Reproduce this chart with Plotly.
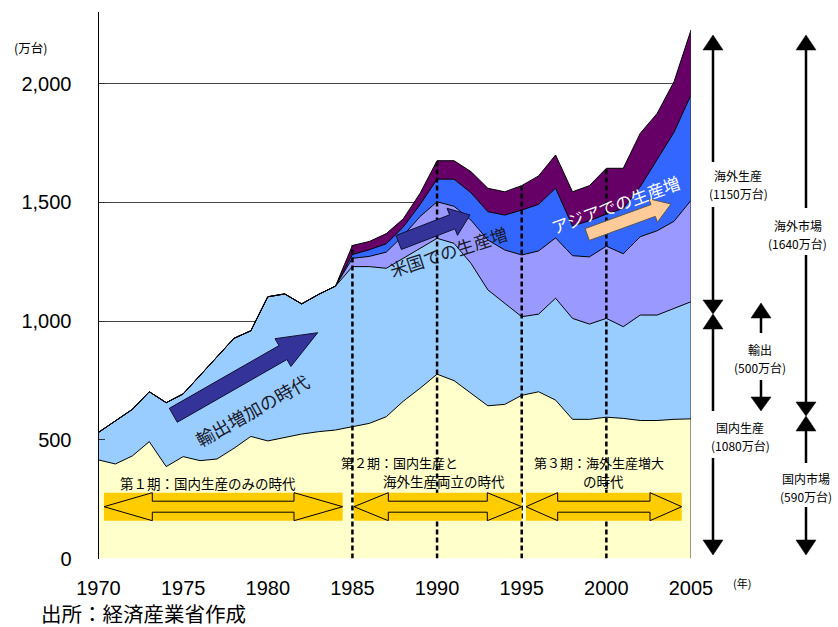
import math
import plotly.graph_objects as go

W, H = 838, 627

# ---- data (万台) ----
years = list(range(1970, 2006))

domestic_sales = [415, 398, 432, 492, 387, 429, 412, 419, 464, 514, 495, 510, 524, 534, 541,
                  555, 569, 597, 662, 717, 776, 749, 696, 643, 649, 687, 702, 667, 586, 586,
                  595, 590, 581, 581, 586, 588]
exports = [116, 182, 196, 210, 269, 264, 358, 431, 463, 445, 607, 604, 548, 578, 606,
           674, 660, 625, 602, 589, 572, 578, 547, 488, 426, 331, 327, 429, 425, 401,
           416, 386, 444, 444, 467, 493]
us_production = [0, 0, 0, 0, 0, 0, 0, 0, 0, 0, 0, 0, 0, 0, 0,
                 35, 43, 68, 96, 134, 154, 156, 182, 210, 224, 260, 266, 254, 264, 283,
                 304, 307, 330, 355, 367, 427]
asia_production = [0, 0, 0, 0, 0, 0, 0, 0, 0, 0, 0, 0, 0, 0, 0,
                   16, 28, 35, 35, 50, 95, 114, 115, 119, 147, 189, 196, 209, 125, 152,
                   135, 191, 210, 300, 375, 444]
other_production = [0, 0, 0, 0, 0, 0, 0, 0, 0, 0, 0, 0, 0, 0, 0,
                    38, 35, 43, 35, 48, 78, 78, 89, 99, 98, 103, 120, 140, 144, 148,
                    193, 169, 225, 194, 213, 273]

series_names = ["国内販売", "輸出", "米国生産", "アジア生産", "その他海外生産"]
series_values = [domestic_sales, exports, us_production, asia_production, other_production]
series_colors = ["#FFFFCC", "#99CCFF", "#9999FF", "#3366FF", "#660066"]

x_ticks = [1970, 1975, 1980, 1985, 1990, 1995, 2000, 2005]
y_ticks = [0, 500, 1000, 1500, 2000]
y_tick_labels = ["0", "500", "1,000", "1,500", "2,000"]
period_boundaries = [1985, 1990, 1995, 2000]

CJK = "Noto Sans CJK JP"
NUM = "Liberation Sans, Arial, sans-serif"

# plot area in page pixels
X0_PX, X1_PX = 98.5, 691.0
Y0_PX, YTOP_PX = 558.5, 12.0
PX_PER_UNIT = 0.2375


def px(x):
    return x / W


def py(y):
    return 1 - y / H


def poly(points):
    return "M " + " L ".join(f"{px(a):.5f},{py(b):.5f}" for a, b in points) + " Z"


def block_arrow(tail, tip, body, head, head_len):
    (x0, y0), (x1, y1) = tail, tip
    dx, dy = x1 - x0, y1 - y0
    L = math.hypot(dx, dy)
    ux, uy = dx / L, dy / L
    nx, ny = -uy, ux
    bx, by = x1 - ux * head_len, y1 - uy * head_len
    return poly([
        (x0 + nx * body, y0 + ny * body), (bx + nx * body, by + ny * body),
        (bx + nx * head, by + ny * head), (x1, y1),
        (bx - nx * head, by - ny * head), (bx - nx * body, by - ny * body),
        (x0 - nx * body, y0 - ny * body),
    ])


def double_arrow(xl, xr, yc, bl, br, body, head):
    return poly([
        (xl, yc), (bl, yc - head), (bl, yc - body), (br, yc - body), (br, yc - head),
        (xr, yc), (br, yc + head), (br, yc + body), (bl, yc + body), (bl, yc + head),
    ])


def triangle(x, tip_y, base_y, hw=10):
    return poly([(x, tip_y), (x - hw, base_y), (x + hw, base_y)])


fig = go.Figure()

for name, vals, col in zip(series_names, series_values, series_colors):
    fig.add_trace(go.Scatter(
        x=years, y=vals, name=name, stackgroup="one", mode="lines",
        line=dict(color="black", width=1), fillcolor=col, hoverinfo="x+y+name",
    ))

totals = [sum(v) for v in zip(*series_values)]

shapes = []
# period boundaries
for yr in period_boundaries:
    shapes.append(dict(type="line", xref="x", yref="y", x0=yr, x1=yr, y0=0,
                       y1=totals[years.index(yr)],
                       line=dict(color="black", width=2.5, dash="5px,3px")))
# right edge of the stacked area
shapes.append(dict(type="line", xref="x", yref="y", x0=years[-1], x1=years[-1], y0=0,
                   y1=totals[-1], line=dict(color="#333333", width=1)))

# trend arrows
shapes.append(dict(type="path", xref="paper", yref="paper",
                   path=block_arrow((173.3, 415.3), (317.7, 332.7), 8, 16, 40),
                   fillcolor="#333399", line=dict(color="#111133", width=1)))
shapes.append(dict(type="path", xref="paper", yref="paper",
                   path=block_arrow((398.7, 242.5), (470, 215), 7.5, 14.5, 19),
                   fillcolor="#333399", line=dict(color="#111133", width=1)))
shapes.append(dict(type="path", xref="paper", yref="paper",
                   path=block_arrow((587.2, 234.5), (671, 204), 6.3, 12.5, 19),
                   fillcolor="#FFCC99", line=dict(color="#555555", width=1)))

# period bars
for xl, xr, bl, br in [(104, 342.7, 152.3, 294), (354, 521.7, 388.3, 487.3),
                       (526, 681.7, 557.7, 650)]:
    shapes.append(dict(type="rect", xref="paper", yref="paper",
                       x0=px(xl), x1=px(xr), y0=py(520.7), y1=py(492.7),
                       fillcolor="#FFCC00", line=dict(width=0)))
    shapes.append(dict(type="path", xref="paper", yref="paper",
                       path=double_arrow(xl, xr, 506.7, bl, br, 5.5, 14),
                       fillcolor="#FFCC00", line=dict(color="black", width=1)))


# right-hand range markers
def vline(x, ya, yb):
    shapes.append(dict(type="line", xref="paper", yref="paper", x0=px(x), x1=px(x),
                       y0=py(ya), y1=py(yb), line=dict(color="black", width=2.5)))


def head(x, tip_y, base_y):
    shapes.append(dict(type="path", xref="paper", yref="paper",
                       path=triangle(x, tip_y, base_y, 10),
                       fillcolor="black", line=dict(color="black", width=0.5)))


# overseas / domestic production
head(713, 35, 50); vline(713, 50, 162)
vline(713, 207, 301); head(713, 314, 300)
head(713, 314, 329); vline(713, 328, 411)
vline(713, 458, 541); head(713, 555, 540)
# exports
head(761, 303, 318); vline(761, 317, 333)
vline(761, 380, 398); head(761, 411, 397)
# overseas / domestic market
head(806, 35, 50); vline(806, 50, 208)
vline(806, 255, 403); head(806, 416, 402)
head(806, 416, 431); vline(806, 430, 463)
vline(806, 507, 541); head(806, 555, 540)

annotations = []


def text(x, y, s, size=13, color="black", angle=0, xanchor="center", family=CJK):
    annotations.append(dict(x=px(x), y=py(y), xref="paper", yref="paper", text=s,
                            showarrow=False, xanchor=xanchor, yanchor="middle",
                            textangle=angle, borderpad=0,
                            font=dict(family=family, size=size, color=color)))


text(251.7, 410, "輸出増加の時代", size=18, color="#1a1a2a", angle=-29)
text(448.3, 251.2, "米国での生産増", size=17.5, color="#1a1a2a", angle=-18)
text(615, 205, "アジアでの生産増", size=17, color="white", angle=-20)

text(207.5, 482.7, "第１期：国内生産のみの時代", size=13.5)
text(399, 462.3, "第２期：国内生産と", size=13)
text(444, 481.3, "海外生産両立の時代", size=13.5)
text(599, 462.3, "第３期：海外生産増大", size=13)
text(603, 481.3, "の時代", size=13.5)

text(738, 175.5, "海外生産", size=12); text(738, 193.5, "(1150万台)", size=12)
text(740, 427, "国内生産", size=12); text(740, 445, "(1080万台)", size=12)
text(760, 349, "輸出", size=12); text(760, 367, "(500万台)", size=12)
text(798, 225.5, "海外市場", size=12); text(797, 243.5, "(1640万台)", size=12)
text(806, 478.5, "国内市場", size=12); text(806, 496.5, "(590万台)", size=12)

text(31, 48, "(万台)", size=12.5)
text(742, 583, "(年)", size=11)
text(40, 613, "出所：経済産業省作成", size=20.5, xanchor="left")

y_top = (Y0_PX - YTOP_PX) / PX_PER_UNIT

fig.update_layout(
    width=W, height=H, margin=dict(l=0, r=0, t=0, b=0, autoexpand=False),
    paper_bgcolor="white", plot_bgcolor="white", showlegend=False,
    xaxis=dict(domain=[px(X0_PX), px(X1_PX)], range=[years[0], years[-1]],
               tickvals=x_ticks, ticks="", showline=False, showgrid=False, zeroline=False,
               automargin=False,
               tickfont=dict(family=NUM, size=20, color="black"), ticklabelstandoff=15),
    yaxis=dict(domain=[py(Y0_PX), py(YTOP_PX)], range=[0, y_top],
               tickvals=y_ticks, ticktext=y_tick_labels, ticks="inside", ticklen=6,
               tickcolor="#333333", showline=True, linecolor="black", linewidth=1,
               showgrid=True, gridcolor="#444444", gridwidth=1, zeroline=False,
               automargin=False,
               tickfont=dict(family=NUM, size=20, color="black"), ticklabelstandoff=22),
    shapes=shapes, annotations=annotations,
)

fig.write_html("out.html")
